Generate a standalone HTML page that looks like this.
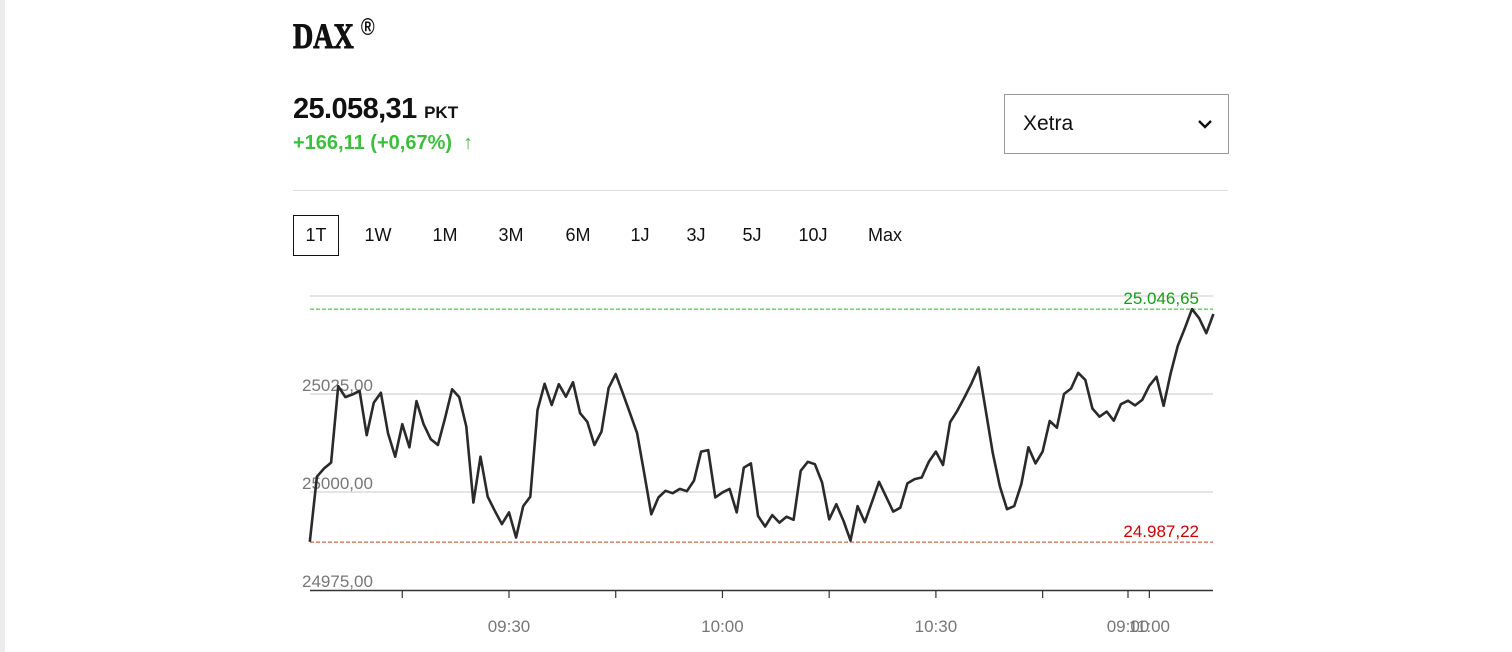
<!DOCTYPE html>
<html><head><meta charset="utf-8">
<style>
body{margin:0;width:1512px;height:652px;background:#fff;position:relative;overflow:hidden;font-family:"Liberation Sans",sans-serif;}
.abs{position:absolute;white-space:nowrap;}
.btn{position:absolute;top:215px;height:40px;line-height:40px;font-size:18px;color:#111;text-align:center;transform:translateX(-50%);}
</style></head><body>
<div class="abs" style="left:0;top:0;width:5px;height:652px;background:#ececec"></div>
<div class="abs" style="left:293px;top:14px;font-family:'Liberation Serif',serif;font-weight:bold;font-size:36px;color:#111;transform:scaleX(0.78);transform-origin:left;-webkit-text-stroke:1px #111">DAX <sup style="font-size:24px;font-family:'Liberation Sans',sans-serif;-webkit-text-stroke:0">®</sup></div>
<div class="abs" style="left:293px;top:93px;font-weight:bold;font-size:29px;color:#111;letter-spacing:-0.6px">25.058,31 <span style="font-size:17px;letter-spacing:0">PKT</span></div>
<div class="abs" style="left:293px;top:132px;font-weight:bold;font-size:20px;color:#3cbf3c">+166,11 (+0,67%) &nbsp;↑</div>
<div class="abs" style="left:1004px;top:94px;width:223px;height:58px;border:1px solid #999;">
  <span class="abs" style="left:18px;top:17px;font-size:21px;color:#111">Xetra</span>
  <svg class="abs" style="left:192px;top:23px" width="16" height="12" viewBox="0 0 16 12"><path d="M2 3 L8 9 L14 3" fill="none" stroke="#111" stroke-width="2.4"/></svg>
</div>
<div class="abs" style="left:293px;top:190px;width:935px;height:1px;background:#ddd"></div>
<div class="btn" style="left:316px;width:44px;border:1px solid #111;top:215px;height:39px;line-height:39px">1T</div>
<div class="btn" style="left:378px">1W</div>
<div class="btn" style="left:445px">1M</div>
<div class="btn" style="left:511px">3M</div>
<div class="btn" style="left:578px">6M</div>
<div class="btn" style="left:640px">1J</div>
<div class="btn" style="left:696px">3J</div>
<div class="btn" style="left:752px">5J</div>
<div class="btn" style="left:813px">10J</div>
<div class="btn" style="left:885px">Max</div>
<svg id="chart" class="abs" style="left:0;top:0" width="1512" height="652"></svg>
<script>
const values=[24987.3,25003.9,25006.0,25007.5,25027.0,25024.2,25024.9,25025.8,25014.5,25022.8,25025.3,25015.0,25009.0,25017.3,25011.4,25023.2,25017.3,25013.5,25012.0,25018.8,25026.2,25024.2,25016.7,24997.3,25009.0,24998.8,24995.2,24991.8,24994.8,24988.4,24996.4,24998.8,25020.9,25027.6,25022.2,25027.5,25024.3,25028.0,25020.1,25017.9,25012.0,25015.4,25026.5,25030.1,25025.2,25020.1,25015.0,25004.8,24994.3,24998.6,25000.3,24999.7,25000.8,25000.2,25002.9,25010.3,25010.7,24998.6,24999.9,25000.8,24994.8,25006.2,25007.3,24993.9,24991.2,24994.1,24992.2,24993.7,24992.9,25005.4,25007.7,25007.1,25002.4,24993.0,24996.9,24992.7,24987.6,24996.4,24992.3,24997.4,25002.6,24998.8,24995.0,24996.0,25002.2,25003.3,25003.7,25007.7,25010.3,25006.9,25017.8,25020.7,25024.1,25027.7,25031.8,25020.9,25009.9,25001.4,24995.6,24996.4,25002.0,25011.4,25007.3,25010.3,25018.1,25016.4,25025.0,25026.4,25030.4,25028.6,25021.3,25019.2,25020.5,25018.2,25022.4,25023.3,25022.1,25023.5,25027.1,25029.4,25022.0,25030.3,25037.3,25041.8,25046.65,25044.3,25040.5,25045.4];
const startMinute=542;
const yTicks=[24975,25000,25025,25050];
const yTickLabels=["24975,00","25000,00","25025,00",""];
const xTickMinutes=[555,570,585,600,615,630,645,657,660];
const xTickLabels=["","09:30","","10:00","","10:30","","09:00","11:00"];
const highValue=25046.65, lowValue=24987.22;
const highLabel="25.046,65", lowLabel="24.987,22";

const svg=document.getElementById('chart');
const NS='http://www.w3.org/2000/svg';
const x0=310,x1=1213;
const yS=v=>296+(25050-v)*3.92;
const xS=m=>509+(m-570)*7.115;
function mk(tag,attrs,parent){const e=document.createElementNS(NS,tag);for(const k in attrs)e.setAttribute(k,attrs[k]);(parent||svg).appendChild(e);return e;}
yTicks.forEach((v,i)=>{
  if(v>24975){const g=mk('line',{x1:x0,x2:x1,y1:yS(v),y2:yS(v),stroke:'#dcdcdc','stroke-width':1.5});
  
  }
  if(yTickLabels[i]){const t=mk('text',{x:302,y:yS(v)-3,'font-size':17,fill:'#777','font-family':'Liberation Sans, sans-serif'});t.textContent=yTickLabels[i];
  
  }
});
const hl=mk('line',{x1:x0,x2:x1,y1:yS(highValue),y2:yS(highValue),stroke:'#2fb82f','stroke-dasharray':'4,2'});


const ll=mk('line',{x1:x0,x2:x1,y1:yS(lowValue),y2:yS(lowValue),stroke:'#c8401e','stroke-dasharray':'4,2'});


const ht=mk('text',{x:1199,y:yS(highValue)-5,'text-anchor':'end','font-size':17,fill:'#1a9a1a','font-family':'Liberation Sans, sans-serif'});ht.textContent=highLabel;


const lt=mk('text',{x:1199,y:yS(lowValue)-5,'text-anchor':'end','font-size':17,fill:'#cc0000','font-family':'Liberation Sans, sans-serif'});lt.textContent=lowLabel;


const ax=mk('line',{x1:x0,x2:x1,y1:590.5,y2:590.5,stroke:'#333','stroke-width':1.5});


xTickMinutes.forEach((m,i)=>{
  const tk=mk('line',{x1:xS(m),x2:xS(m),y1:590,y2:598,stroke:'#333','stroke-width':1.2});
  
  
  if(xTickLabels[i]){const t=mk('text',{x:xS(m),y:632,'text-anchor':'middle','font-size':17,fill:'#777','font-family':'Liberation Sans, sans-serif'});t.textContent=xTickLabels[i];
  
  }
});
const d=values.map((v,i)=>(i?'L':'M')+xS(startMinute+i).toFixed(1)+' '+yS(v).toFixed(1)).join(' ');
const p=mk('path',{d:d,fill:'none',stroke:'#2a2a2a','stroke-width':2.6,'stroke-linejoin':'round'});


</script>
</body></html>
